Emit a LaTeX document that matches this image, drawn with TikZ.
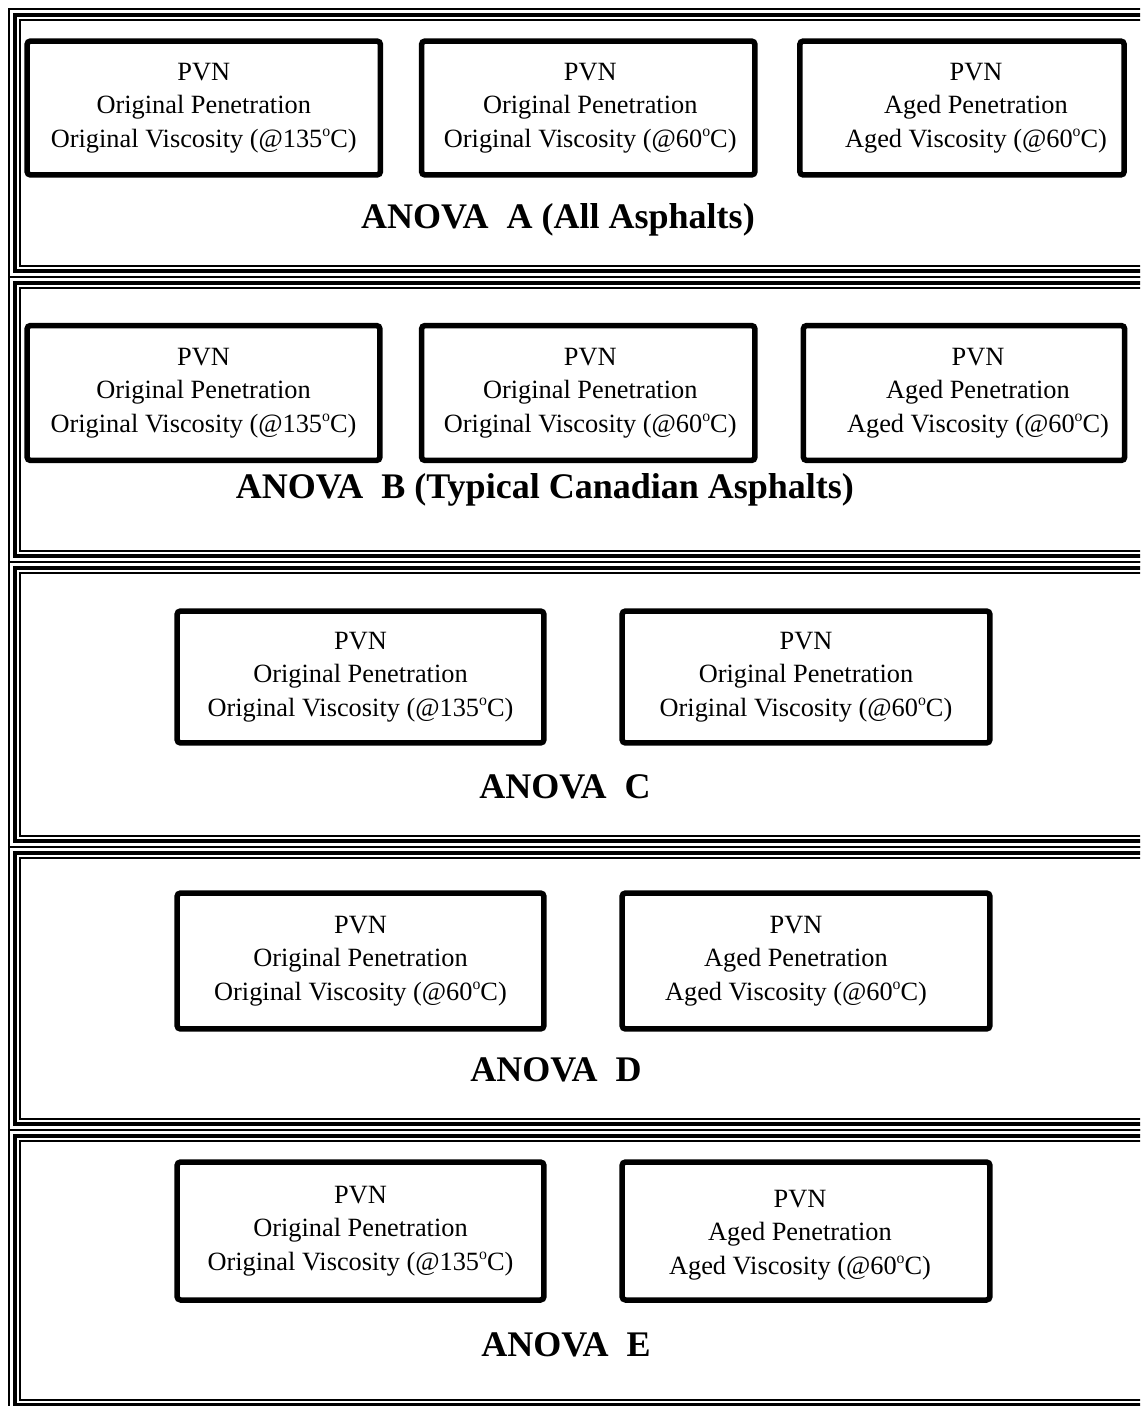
\documentclass[tikz,border=0pt]{standalone}
\usepackage{fontspec}
\setmainfont{Liberation Serif}
\usetikzlibrary{positioning}

\newcommand{\dgC}{\raisebox{0.85ex}{\fontsize{9}{9}\selectfont o}C}

\begin{document}
\begin{tikzpicture}[x=0.02cm, y=-0.02cm,
    box/.style={draw, line width=0.11cm, rounded corners=2pt, inner sep=0pt},
    boxtext/.style={align=center, inner sep=0pt, font=\fontsize{15}{19}\selectfont},
    title/.style={inner sep=0pt, font=\fontsize{20.5}{24}\selectfont\bfseries},
    thinline/.style={line width=0.034cm},
    thickline/.style={line width=0.09cm}]
        % Page size
        \clip (0,0) rectangle (1140,1406);

        % Triple frame round each panel
        \foreach \t/\b in {9/277, 277/562, 562/847, 847/1130, 1130/1411}
        {
          \draw[thinline] (9,\t) rectangle (1160,\b);
          \draw[thickline] (15,\t+6) rectangle (1154,\b-6);
          \draw[thinline] (20,\t+11) rectangle (1149,\b-11);
        }

        % ANOVA A
        \node[box, minimum width=7.07cm, minimum height=2.68cm] (a1) at (203.75,108) {};
        \node[box, minimum width=6.67cm, minimum height=2.68cm] (a2) at (588.25,108) {};
        \node[box, minimum width=6.49cm, minimum height=2.68cm] (a3) at (962,108) {};
        \node[boxtext] (a1t) at (a1.center) {PVN\\Original Penetration\\Original Viscosity (@135\dgC)};
        \node[boxtext] (a2t) at ([xshift=0.04cm]a2.center) {PVN\\Original Penetration\\Original Viscosity (@60\dgC)};
        \node[boxtext] (a3t) at ([xshift=0.28cm]a3.center) {PVN\\Aged Penetration\\Aged Viscosity (@60\dgC)};
        \node[title] (ta) at (558,220) {ANOVA~~A (All Asphalts)};

        % ANOVA B
        \node[box, minimum width=7.06cm, minimum height=2.70cm] (b1) at (203.5,393) {};
        \node[box, minimum width=6.67cm, minimum height=2.70cm] (b2) at (588.25,393) {};
        \node[box, minimum width=6.43cm, minimum height=2.70cm] (b3) at (964,393) {};
        \node[boxtext] (b1t) at (b1.center) {PVN\\Original Penetration\\Original Viscosity (@135\dgC)};
        \node[boxtext] (b2t) at ([xshift=0.04cm]b2.center) {PVN\\Original Penetration\\Original Viscosity (@60\dgC)};
        \node[boxtext] (b3t) at ([xshift=0.28cm]b3.center) {PVN\\Aged Penetration\\Aged Viscosity (@60\dgC)};
        \node[title] (tb) at (545,490) {ANOVA~~B (Typical Canadian Asphalts)};

        % ANOVA C
        \node[box, minimum width=7.34cm, minimum height=2.64cm] (c1) at (360.5,677) {};
        \node[box, minimum width=7.36cm, minimum height=2.64cm] (c2) at (806,677) {};
        \node[boxtext] (c1t) at (c1.center) {PVN\\Original Penetration\\Original Viscosity (@135\dgC)};
        \node[boxtext] (c2t) at (c2.center) {PVN\\Original Penetration\\Original Viscosity (@60\dgC)};
        \node[title] (tc) at (565,787) {ANOVA~~C};

        % ANOVA D
        \node[box, minimum width=7.34cm, minimum height=2.72cm] (d1) at (360.5,961) {};
        \node[box, minimum width=7.36cm, minimum height=2.72cm] (d2) at (806,961) {};
        \node[boxtext] (d1t) at (d1.center) {PVN\\Original Penetration\\Original Viscosity (@60\dgC)};
        \node[boxtext] (d2t) at ([xshift=-0.2cm]d2.center) {PVN\\Aged Penetration\\Aged Viscosity (@60\dgC)};
        \node[title] (td) at (556,1070) {ANOVA~~D};

        % ANOVA E
        \node[box, minimum width=7.34cm, minimum height=2.76cm] (e1) at (360.5,1231) {};
        \node[box, minimum width=7.36cm, minimum height=2.76cm] (e2) at (806,1231) {};
        \node[boxtext] (e1t) at (e1.center) {PVN\\Original Penetration\\Original Viscosity (@135\dgC)};
        \node[boxtext] (e2t) at ([xshift=-0.12cm, yshift=-0.08cm]e2.center) {PVN\\Aged Penetration\\Aged Viscosity (@60\dgC)};
        \node[title] (te) at (566,1345) {ANOVA~~E};
      \end{tikzpicture}
\end{document}
